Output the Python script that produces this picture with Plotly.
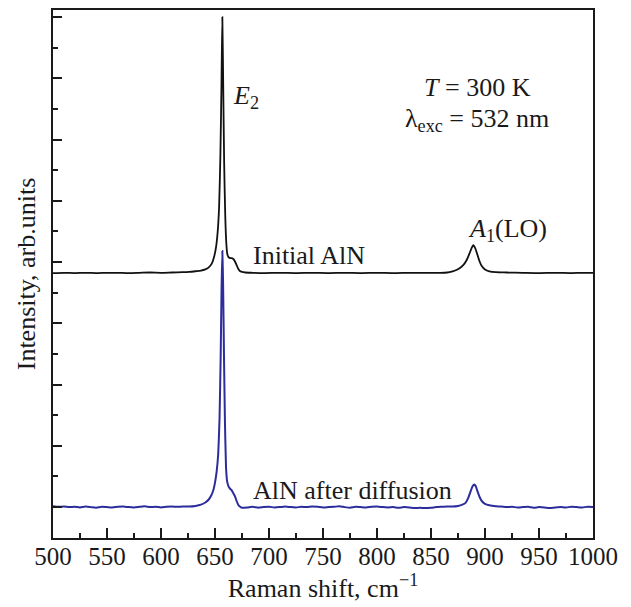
import plotly.graph_objects as go

# ---- data ----
x_initial = [500, 510, 520, 530, 540, 550, 560, 570, 580, 590, 600, 610, 620, 626, 632, 637, 641, 644, 647, 649,
             651, 652.5, 653.8, 655, 656, 656.8, 657.6, 658.5, 659.5, 660.5, 661.3, 662.5, 664, 665.5, 667, 668.5,
             670, 671.5, 673, 675, 678, 685, 695, 710, 725, 740, 755, 770, 785, 800, 815, 830, 845, 858, 865, 870,
             874, 878, 881, 883.5, 885.5, 887.5, 889.2, 891, 893, 895, 897, 900, 904, 910, 920, 935, 950, 965, 980,
             990, 1000]
y_initial = [7.64, 7.65, 7.64, 7.65, 7.64, 7.65, 7.65, 7.64, 7.65, 7.66, 7.65, 7.66, 7.67, 7.68, 7.70, 7.72, 7.76,
             7.82, 7.95, 8.15, 8.50, 9.00, 9.80, 11.5, 13.8, 16.0, 13.8, 11.2, 9.5, 8.6, 8.28, 8.16, 8.13, 8.13, 8.10,
             8.02, 7.90, 7.78, 7.71, 7.68, 7.66, 7.65, 7.64, 7.65, 7.64, 7.65, 7.64, 7.65, 7.64, 7.65, 7.64, 7.65,
             7.65, 7.65, 7.66, 7.70, 7.75, 7.84, 7.95, 8.10, 8.27, 8.45, 8.55, 8.45, 8.24, 8.02, 7.87, 7.76, 7.70,
             7.67, 7.66, 7.65, 7.64, 7.65, 7.64, 7.65, 7.65]

x_diffused = [500, 505, 510, 515, 520, 525, 530, 535, 540, 545, 550, 555, 560, 565, 570, 575, 580, 585, 590, 595,
              600, 605, 610, 615, 620, 626, 632, 637, 641, 644, 646.5, 648.5, 650, 651.5, 653, 654.2, 655.2, 656.1,
              656.8, 657.5, 658.3, 659.2, 660.2, 661.2, 662.5, 664, 665.5, 667, 668.5, 670, 671.5, 673, 675, 680,
              685, 690, 695, 700, 705, 710, 715, 720, 725, 730, 735, 740, 745, 750, 755, 760, 765, 770, 775, 780,
              785, 790, 795, 800, 805, 810, 815, 820, 825, 830, 835, 840, 845, 850, 855, 860, 865, 870, 875, 879,
              882, 884.5, 886.5, 888.5, 890, 891.5, 893, 895, 897, 900, 904, 910, 915, 920, 925, 930, 935, 940, 945,
              950, 955, 960, 965, 970, 975, 980, 985, 990, 995, 1000]
y_diffused = [0.03, 0.01, 0.02, 0.00, 0.01, -0.01, 0.02, 0.00, -0.02, 0.01, 0.00, -0.01, 0.01, 0.02, 0.00, -0.01,
              0.01, 0.03, 0.00, 0.01, -0.01, 0.01, 0.02, 0.01, 0.02, 0.02, 0.04, 0.08, 0.15, 0.24, 0.38, 0.56, 0.80,
              1.15, 1.75, 2.9, 4.8, 7.2, 8.36, 7.3, 5.0, 2.8, 1.3, 0.85, 0.68, 0.60, 0.55, 0.45, 0.35, 0.20, 0.08,
              0.02, -0.02, -0.01, 0.01, -0.02, 0.00, 0.01, -0.01, 0.00, 0.02, 0.00, -0.01, 0.01, 0.00, 0.02, 0.01,
              -0.01, 0.00, 0.01, 0.03, 0.00, -0.02, 0.01, 0.00, -0.01, 0.01, 0.02, 0.00, -0.01, 0.00, -0.02, 0.00,
              -0.01, -0.03, -0.02, -0.03, -0.02, 0.00, 0.01, 0.02, 0.02, 0.04, 0.08, 0.14, 0.30, 0.50, 0.68, 0.74,
              0.68, 0.52, 0.33, 0.20, 0.11, 0.06, 0.03, 0.02, 0.00, 0.01, -0.01, 0.00, 0.01, -0.02, 0.00, -0.01,
              -0.03, -0.01, 0.00, -0.01, 0.01, 0.00, -0.01, 0.01, 0.00, 0.01]

x_ticks = [500, 550, 600, 650, 700, 750, 800, 850, 900, 950, 1000]

FONT = "Liberation Serif, Times New Roman, serif"
BLUE = "#2c2c9c"
INK = "#1a1a1a"

fig = go.Figure()
fig.add_trace(go.Scatter(x=x_initial, y=y_initial, mode="lines",
                         line=dict(color="#111111", width=1.8, shape="spline", smoothing=0.6),
                         showlegend=False))
fig.add_trace(go.Scatter(x=x_diffused, y=y_diffused, mode="lines",
                         line=dict(color=BLUE, width=2, shape="spline", smoothing=0.4),
                         showlegend=False))

ann_font = dict(family=FONT, size=26, color=INK)
annotations = [
    dict(x=665.0, y=13.4, text="<i>E</i><sub>2</sub>", xanchor="left", yanchor="middle"),
    dict(x=893.5, y=13.7, text="<i>T</i> = 300 K", xanchor="center", yanchor="middle"),
    dict(x=892.5, y=12.65, text="λ<sub>exc</sub> = 532 nm", xanchor="center", yanchor="middle"),
    dict(x=920.5, y=9.05, text="<i>A</i><sub>1</sub>(LO)", xanchor="center", yanchor="middle"),
    dict(x=683.0, y=8.2, text="Initial AlN", xanchor="left", yanchor="middle"),
    dict(x=683.0, y=0.55, text="AlN after diffusion", xanchor="left", yanchor="middle"),
]
for a in annotations:
    a.update(xref="x", yref="y", showarrow=False, font=ann_font)

fig.update_layout(
    width=631, height=607,
    margin=dict(l=53, r=38, t=8, b=69),
    paper_bgcolor="white", plot_bgcolor="white",
    font=dict(family=FONT, size=25, color=INK),
    annotations=annotations,
    showlegend=False,
)
fig.update_xaxes(
    range=[500, 1000], tickvals=x_ticks, ticktext=[str(v) for v in x_ticks],
    ticks="inside", ticklen=10, tickwidth=1.5, tickcolor=INK,
    minor=dict(dtick=25, tick0=500, ticks="inside", ticklen=5, tickwidth=1.5, tickcolor=INK, showgrid=False),
    showline=True, linecolor=INK, linewidth=2, mirror=True,
    showgrid=False, zeroline=False,
    tickfont=dict(family=FONT, size=25, color=INK), ticklabelstandoff=-5,
    title=dict(text="Raman shift, cm<sup>−1</sup>", font=dict(family=FONT, size=26, color=INK), standoff=5),
)
fig.update_yaxes(
    range=[-1.008, 16.23], tick0=0, dtick=2, showticklabels=False,
    ticks="inside", ticklen=9, tickwidth=1.5, tickcolor=INK,
    minor=dict(dtick=1, tick0=0, ticks="inside", ticklen=5, tickwidth=1.5, tickcolor=INK, showgrid=False),
    showline=True, linecolor=INK, linewidth=2, mirror=True,
    showgrid=False, zeroline=False,
    title=dict(text="Intensity, arb.units", font=dict(family=FONT, size=26, color=INK), standoff=8),
)

fig.write_html("out.html", config={"displayModeBar": False},
               post_script="document.body.style.margin='0px';")
